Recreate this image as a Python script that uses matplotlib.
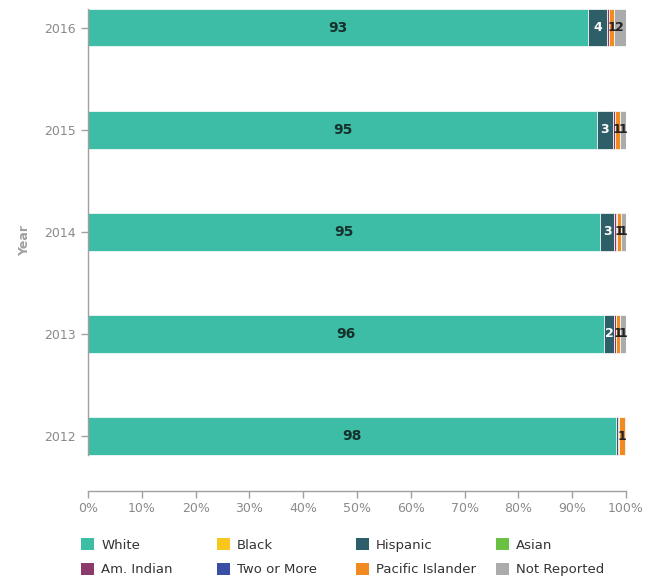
import matplotlib
matplotlib.use("Agg")
import matplotlib.pyplot as plt
import numpy as np
from matplotlib.patches import Patch

years = ["2012", "2013", "2014", "2015", "2016"]
categories = ["White", "Black", "Hispanic", "Asian",
              "Am. Indian", "Two or More", "Pacific Islander", "Not Reported"]
white = [98.2, 95.9, 95.2, 94.6, 92.9]
black = [0.0, 0.0, 0.0, 0.0, 0.0]
hispanic = [0.4, 1.9, 2.6, 2.9, 3.6]
asian = [0.0, 0.0, 0.0, 0.0, 0.0]
am_indian = [0.1, 0.3, 0.4, 0.4, 0.4]
two_or_more = [0.0, 0.0, 0.2, 0.0, 0.0]
pacific_islander = [1.2, 0.8, 0.6, 0.9, 0.8]
not_reported = [0.1, 1.1, 1.0, 1.2, 2.3]
x_ticks = [0, 10, 20, 30, 40, 50, 60, 70, 80, 90, 100]

series = [white, black, hispanic, asian, am_indian, two_or_more,
          pacific_islander, not_reported]
colors = ["#3dbca6", "#f7c71c", "#2e5e68", "#6abf45",
          "#8b3a6b", "#3a4ea6", "#f28a22", "#ababab"]
label_colors = ["#16302c", "#222222", "white", "#222222",
                "#222222", "#222222", "#222222", "#222222"]

W, H = 652, 577
fig = plt.figure(figsize=(W / 100, H / 100), dpi=100)
ax = fig.add_axes([88 / W, (H - 460) / H, (626 - 88) / W, 460 / H])

y = np.arange(len(years))
left = np.zeros(len(years))
for vals, col, lc in zip(series, colors, label_colors):
    vals = np.array(vals)
    bars = ax.barh(y, vals, left=left, height=0.37, color=col,
                   edgecolor="white", linewidth=0.5)
    for b, v in zip(bars, vals):
        if round(v) >= 1:
            # narrow segments get a slightly smaller label, like the original
            fs = 10 if v >= 5 else 9
            ax.text(b.get_x() + b.get_width() / 2, b.get_y() + b.get_height() / 2,
                    f"{round(v)}", ha="center", va="center", color=lc,
                    fontsize=fs, fontweight="semibold")
    left += vals

ax.set_xlim(0, 100)
ax.set_ylim(-0.235, 4.27)
ax.set_yticks(y)
ax.set_yticklabels(years)
ax.set_xticks(x_ticks)
ax.set_xticklabels([f"{t}%" for t in x_ticks])

for s in ["top", "right"]:
    ax.spines[s].set_visible(False)
ax.spines["left"].set_bounds(-0.185, 4.185)
ax.spines["bottom"].set_position(("outward", 22))
for s in ["left", "bottom"]:
    ax.spines[s].set_color("#a0a0a0")
    ax.spines[s].set_linewidth(1)
ax.tick_params(axis="both", colors="#a0a0a0", labelcolor="#8a8a8a",
               labelsize=9, length=5, width=1)
ax.tick_params(axis="y", pad=4)

fig.text(25 / W, 1 - 240 / H, "Year", rotation=90, ha="center", va="center",
         color="#a0a0a0", fontsize=9, fontweight="bold")

col_x = [76, 212, 351, 491]
for i in range(4):
    handles = [Patch(facecolor=colors[i]), Patch(facecolor=colors[i + 4])]
    labs = [categories[i], categories[i + 4]]
    fig.legend(handles, labs, loc="upper left",
               bbox_to_anchor=(col_x[i] / W, 1 - 533 / H),
               frameon=False, fontsize=9.5, handlelength=1.0, handleheight=1.0,
               handletextpad=0.5, labelspacing=0.85, borderaxespad=0,
               labelcolor="#333333")

fig.savefig("out.png", dpi=100)
